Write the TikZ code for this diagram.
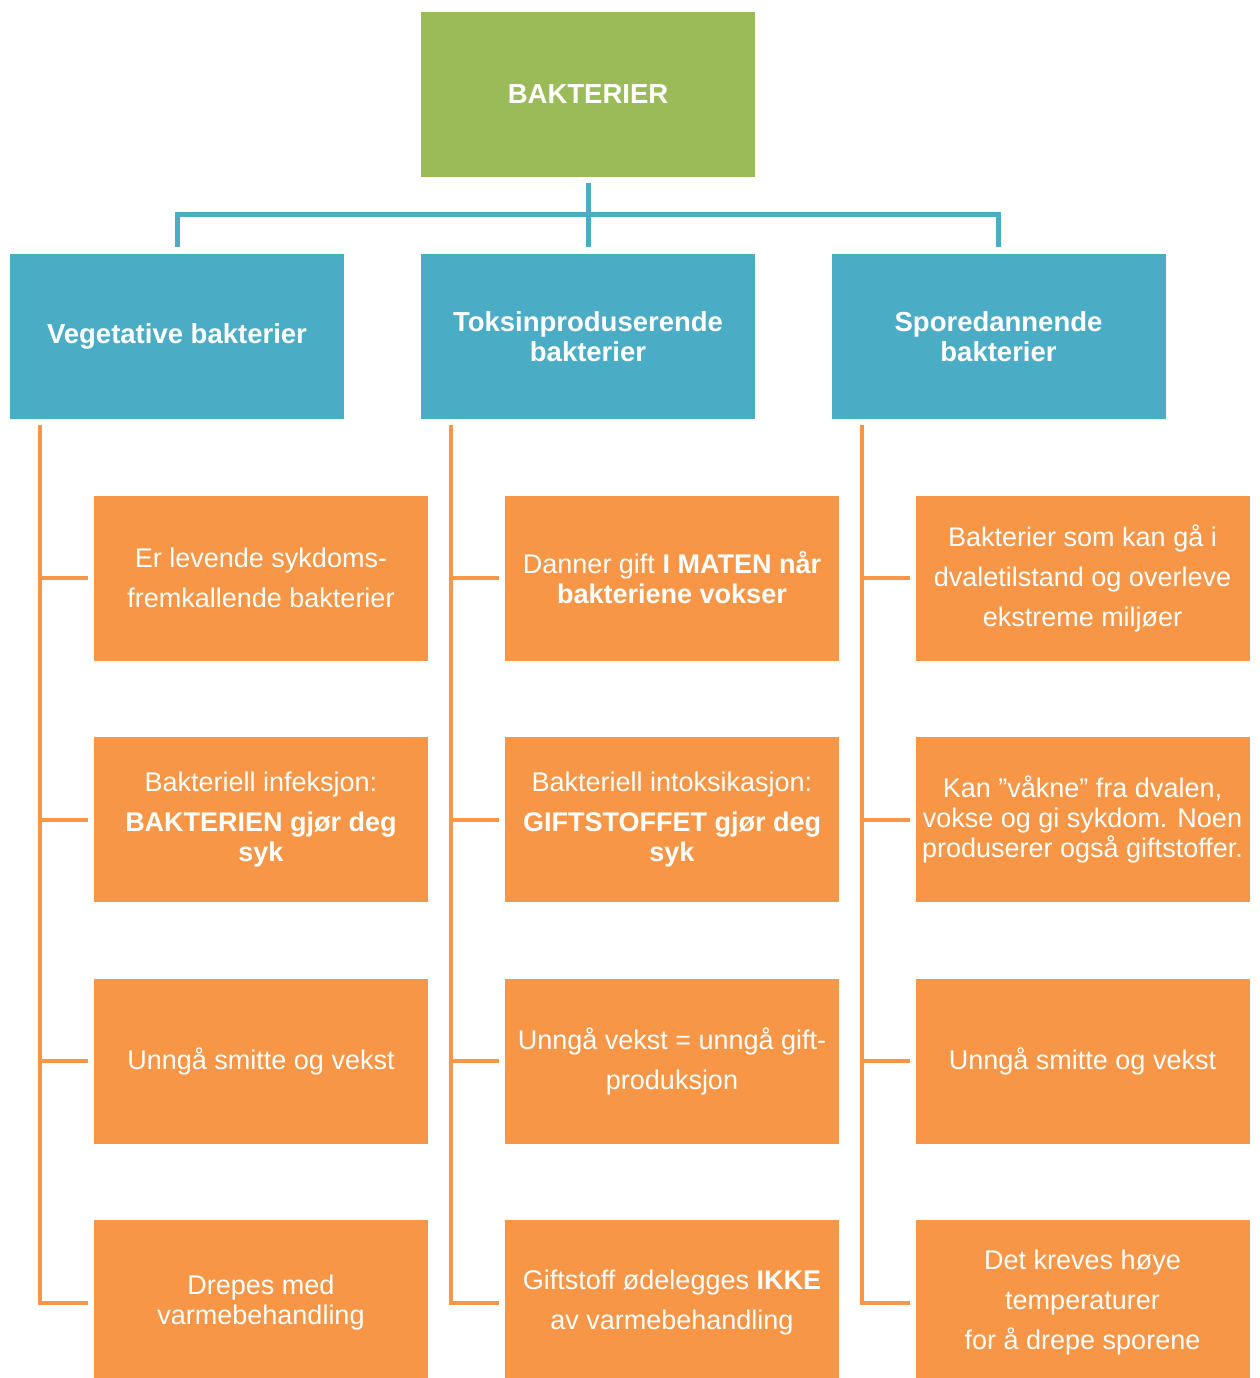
\documentclass[tikz,border=0pt]{standalone}
\usepackage{fontspec}
\setmainfont{Liberation Sans}
\usetikzlibrary{positioning}
\definecolor{topgreen}{HTML}{9BBB59}
\definecolor{headblue}{HTML}{4BACC6}
\definecolor{itemorange}{HTML}{F79646}
\def\loose{\\[10pt]}
\begin{document}
\begin{tikzpicture}[x=1pt,y=-1pt,
    box/.style={rectangle,minimum width=334pt,minimum height=165pt,inner sep=0pt,outer sep=0pt,
      align=center,text=white,font=\fontsize{27}{30}\selectfont},
    head/.style={box,fill=headblue,font=\fontsize{27.5}{30}\selectfont\bfseries},
    item/.style={box,fill=itemorange},
    blueline/.style={draw=headblue,line width=5pt},
    orangeline/.style={draw=itemorange,line width=4pt}]
  \clip (0,0) rectangle (1260,1378);
  % top and group boxes
  \node [head,fill=topgreen] (top) at (588,94.5) {BAKTERIER};
  \node [head] (veg) at (177,336.5) {Vegetative bakterier};
  \node [head] (tox) at (588,336.5) {Toksinproduserende\\bakterier};
  \node [head] (spore) at (998.5,336.5) {Sporedannende\\bakterier};
  % vegetative
  \node [item,below=76.5pt of veg,xshift=84pt] (v1) {Er levende sykdoms-\loose fremkallende bakterier};
  \node [item,below=76.5pt of v1] (v2) {Bakteriell infeksjon:\loose \textbf{BAKTERIEN gjør deg}\\\textbf{syk}};
  \node [item,below=76.5pt of v2] (v3) {Unngå smitte og vekst};
  \node [item,below=76.5pt of v3] (v4) {Drepes med\\varmebehandling};
  % toksinproduserende
  \node [item,below=76.5pt of tox,xshift=84pt] (t1) {Danner gift \textbf{I MATEN når}\\\textbf{bakteriene vokser}};
  \node [item,below=76.5pt of t1] (t2) {Bakteriell intoksikasjon:\loose \textbf{GIFTSTOFFET gjør deg}\\\textbf{syk}};
  \node [item,below=76.5pt of t2] (t3) {Unngå vekst = unngå gift-\loose produksjon};
  \node [item,below=76.5pt of t3] (t4) {Giftstoff ødelegges \textbf{IKKE}\loose av varmebehandling};
  % sporedannende
  \node [item,below=76.5pt of spore,xshift=84pt] (s1) {Bakterier som kan gå i\loose dvaletilstand og overleve\loose ekstreme miljøer};
  \node [item,below=76.5pt of s1] (s2) {Kan ”våkne” fra dvalen,\\vokse og gi sykdom. Noen\\produserer også giftstoffer.};
  \node [item,below=76.5pt of s2] (s3) {Unngå smitte og vekst};
  \node [item,below=76.5pt of s3] (s4) {Det kreves høye\loose temperaturer\loose for å drepe sporene};
  % blue tree
  \draw [blueline] ([yshift=-6pt]top.south) -- ([yshift=7pt]tox.north);
  \draw [blueline] ([yshift=7pt]veg.north) -- ++(0,-33) -| ([yshift=7pt]spore.north);
  % orange brackets
  \foreach \c/\p in {veg/v,tox/t,spore/s} {
    \coordinate (\p top) at ([xshift=30pt,yshift=-6pt]\c.south west);
    \draw [orangeline] (\p top) |- ([xshift=-6pt]\p4.west);
    \foreach \i in {1,2,3}
      \draw [orangeline] (\p top |- \p\i.west) -- ([xshift=-6pt]\p\i.west);
  }
\end{tikzpicture}
\end{document}
